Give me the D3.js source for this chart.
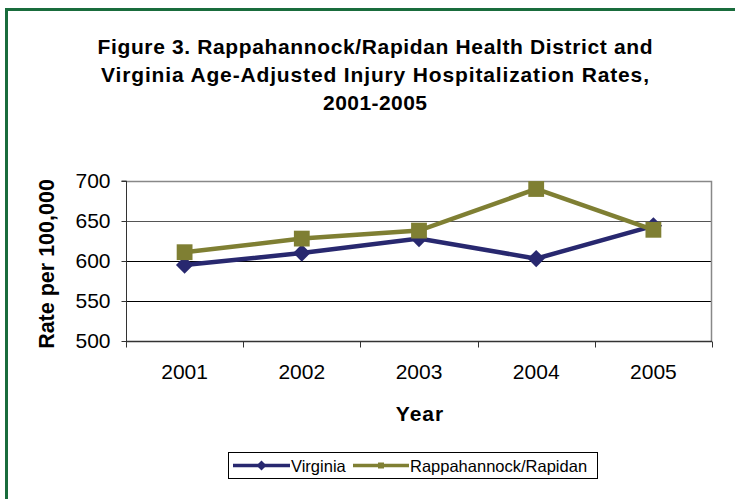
<!DOCTYPE html>
<html>
<head>
<meta charset="utf-8">
<script src="https://cdn.jsdelivr.net/npm/d3@7"></script>
<style>
  body { margin: 0; background: #fff; }
  svg { display: block; font-family: "Liberation Sans", Arial, sans-serif; }
</style>
</head>
<body>
<div id="chart"></div>
<script>
// data
const years = ["2001", "2002", "2003", "2004", "2005"];
const virginia = [595, 610, 628, 603, 644];
const rappahannock = [611, 628, 638, 690, 639];
const yTicks = [500, 550, 600, 650, 700];
const titleLines = [
  "Figure 3. Rappahannock/Rapidan Health District and",
  "Virginia Age-Adjusted Injury Hospitalization Rates,",
  "2001-2005"
];
const titleWidths = [555, 548, 104]; // widths as drawn in the original

const width = 735, height = 499;
const margin = {top: 181, right: 23, bottom: 158, left: 126};

const svg = d3.select("#chart").append("svg")
  .attr("width", width)
  .attr("height", height);

// green frame (runs off the right and bottom of the shot)
svg.append("rect")
  .attr("x", 6.5).attr("y", 9.5)
  .attr("width", 760).attr("height", 520)
  .attr("fill", "none")
  .attr("stroke", "#196c3c")
  .attr("stroke-width", 3);

// title
svg.append("g")
  .selectAll("text")
  .data(titleLines)
  .enter().append("text")
    .attr("x", 375)
    .attr("y", (d, i) => 54 + i * 28)
    .attr("text-anchor", "middle")
    .attr("font-size", 21)
    .attr("font-weight", "bold")
    .attr("fill", "#000")
    .attr("textLength", (d, i) => titleWidths[i])
    .attr("lengthAdjust", "spacing")
    .text(d => d);

let x = d3.scaleBand()
  .domain(years)
  .range([margin.left, width - margin.right]);

let y = d3.scaleLinear()
  .domain([500, 700])
  .range([height - margin.bottom, margin.top]);

// gridlines
svg.append("g")
  .selectAll("line")
  .data(yTicks.slice(1, 4))
  .enter().append("line")
    .attr("x1", margin.left).attr("x2", width - margin.right)
    .attr("y1", d => Math.round(y(d)) + 0.5)
    .attr("y2", d => Math.round(y(d)) + 0.5)
    .attr("stroke", d => d == 650 ? "#555" : "#000")
    .attr("stroke-width", 1);

// top and right border of the plot area
svg.append("path")
  .attr("d", `M${margin.left},${margin.top + 0.5}H${width - margin.right - 0.5}V${height - margin.bottom}`)
  .attr("fill", "none")
  .attr("stroke", "#888")
  .attr("stroke-width", 1.5);

// y axis
let yAxis = g => g
  .attr("transform", `translate(${margin.left + 0.5},0)`)
  .call(d3.axisLeft(y).tickValues(yTicks).tickSize(5).tickPadding(11))
  .call(g => g.select(".domain").attr("stroke", "#333").attr("d", `M-5,${y(700)}H0V${y(500)}`))
  .call(g => g.selectAll(".tick line").attr("stroke", "#333"))
  .call(g => g.selectAll(".tick text")
    .attr("font-size", 21)
    .attr("font-family", "Liberation Sans, Arial, sans-serif")
    .attr("fill", "#000"));

// x axis, ticks between categories
let xAxis = g => g
  .attr("transform", `translate(0,${height - margin.bottom + 0.5})`)
  .call(d3.axisBottom(x).tickSize(0).tickPadding(23))
  .call(g => g.select(".domain").attr("stroke", "#333").attr("stroke-width", 1.5).attr("d", `M${margin.left},0H${width - margin.right}`))
  .call(g => g.selectAll(".tick text")
    .attr("font-size", 21)
    .attr("font-family", "Liberation Sans, Arial, sans-serif")
    .attr("fill", "#000"))
  .call(g => g.append("g")
    .selectAll("line")
    .data(years.concat(["end"]))
    .enter().append("line")
      .attr("x1", (d, i) => Math.round(margin.left + i * x.bandwidth()) + 0.5)
      .attr("x2", (d, i) => Math.round(margin.left + i * x.bandwidth()) + 0.5)
      .attr("y1", 0).attr("y2", 6)
      .attr("stroke", "#333"));

svg.append("g").call(yAxis);
svg.append("g").call(xAxis);

// axis titles
svg.append("text")
  .attr("transform", `translate(54,${(y(500) + y(700)) / 2 + 3}) rotate(-90)`)
  .attr("text-anchor", "middle")
  .attr("font-size", 21.5)
  .attr("font-weight", "bold")
  .text("Rate per 100,000");

svg.append("text")
  .attr("x", 420)
  .attr("y", 421)
  .attr("text-anchor", "middle")
  .attr("font-size", 21)
  .attr("letter-spacing", 1)
  .attr("font-weight", "bold")
  .text("Year");

// diamond drawn by hand so its size is predictable (r = half diagonal)
const diamond = {
  draw(ctx, size) {
    const r = Math.sqrt(size) / 2;
    ctx.moveTo(0, -r);
    ctx.lineTo(r, 0);
    ctx.lineTo(0, r);
    ctx.lineTo(-r, 0);
    ctx.closePath();
  }
};

const series = [
  {name: "Virginia", values: virginia, color: "#28286f", shape: diamond, size: 300},
  {name: "Rappahannock/Rapidan", values: rappahannock, color: "#7f7f33", shape: d3.symbolSquare, size: 250}
];

let line = d3.line()
  .x((d, i) => x(years[i]) + x.bandwidth() / 2)
  .y(d => y(d));

series.forEach(s => {
  svg.append("path")
    .datum(s.values)
    .attr("d", line)
    .attr("fill", "none")
    .attr("stroke", s.color)
    .attr("stroke-width", 4.5);
  svg.append("g")
    .selectAll("path")
    .data(s.values)
    .enter().append("path")
      .attr("d", d3.symbol().type(s.shape).size(s.size))
      .attr("transform", (d, i) => `translate(${x(years[i]) + x.bandwidth() / 2},${y(d)})`)
      .attr("fill", s.color);
});

// legend
const legend = svg.append("g");
legend.append("rect")
  .attr("x", 228.5).attr("y", 452.5)
  .attr("width", 369).attr("height", 26)
  .attr("fill", "#fff")
  .attr("stroke", "#000");

const legendItems = [
  {x0: 233, x1: 290, tx: 291},
  {x0: 353, x1: 409, tx: 410}
];
series.forEach((s, i) => {
  const it = legendItems[i];
  legend.append("line")
    .attr("x1", it.x0).attr("x2", it.x1)
    .attr("y1", 465.5).attr("y2", 465.5)
    .attr("stroke", s.color).attr("stroke-width", 3.5);
  legend.append("path")
    .attr("d", d3.symbol().type(s.shape).size(i == 0 ? 100 : 36))
    .attr("transform", `translate(${(it.x0 + it.x1) / 2},465.5)`)
    .attr("fill", s.color);
  legend.append("text")
    .attr("x", it.tx).attr("y", 471.5)
    .attr("font-size", 16.5)
    .attr("fill", "#000")
    .text(s.name);
});
</script>
</body>
</html>
